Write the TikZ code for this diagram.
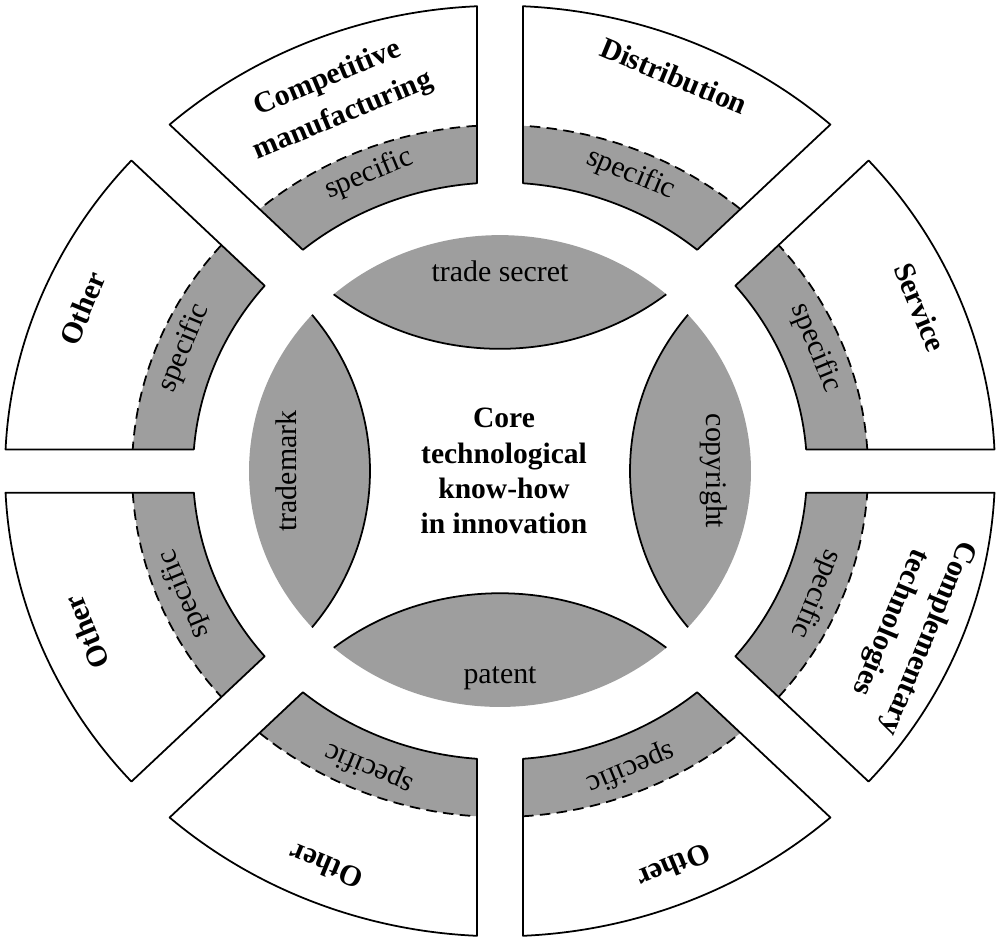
\documentclass[tikz,border=0pt]{standalone}
\usepackage{fontspec}
\setmainfont{Liberation Serif}
\usepackage{xcolor}
\usepackage{tikz}
\definecolor{bandgray}{RGB}{158,158,158}
\tikzset{
    every node/.style={font=\fontsize{8.5}{9.5}\selectfont},
    seg/.style={draw=black, line width=0.5pt, line join=round},
    band/.style={fill=bandgray},
    splitline/.style={draw=black, line width=0.5pt, dash pattern=on 3pt off 1.8pt},
    lens/.style={fill=bandgray},
    lensedge/.style={draw=black, line width=0.5pt},
    outlabel/.style={font=\bfseries\fontsize{8.5}{11.5}\selectfont, align=center, inner sep=1pt},
    corelabel/.style={font=\bfseries\fontsize{8.4}{10}\selectfont, align=center}
}
\newcommand{\ringout}{4.95}
\newcommand{\ringmid}{3.68}
\newcommand{\ringin}{3.07}

\begin{document}
\begin{tikzpicture}[yscale=0.94]
        \useasboundingbox (-5.00,-5.011) rectangle (5.03,5.011);

        % outer ring, one piece per sector
        \foreach \a/\ga/\gb in {0/0.23/0.27, 45/0.27/0.23, 90/0.23/0.27, 135/0.27/0.23,
                                180/0.23/0.27, 225/0.27/0.23, 270/0.23/0.27, 315/0.27/0.23}{
            \pgfmathsetmacro{\oa}{\a+asin(\ga/\ringout)}
            \pgfmathsetmacro{\ob}{\a+45-asin(\gb/\ringout)}
            \pgfmathsetmacro{\ma}{\a+asin(\ga/\ringmid)}
            \pgfmathsetmacro{\mb}{\a+45-asin(\gb/\ringmid)}
            \pgfmathsetmacro{\ia}{\a+asin(\ga/\ringin)}
            \pgfmathsetmacro{\ib}{\a+45-asin(\gb/\ringin)}
            \fill[band] (\ma:\ringmid) arc[start angle=\ma, end angle=\mb, radius=\ringmid]
                -- (\ib:\ringin) arc[start angle=\ib, end angle=\ia, radius=\ringin] -- cycle;
            \draw[seg] (\oa:\ringout) arc[start angle=\oa, end angle=\ob, radius=\ringout]
                -- (\ib:\ringin) arc[start angle=\ib, end angle=\ia, radius=\ringin] -- cycle;
            \draw[splitline] (\ma:\ringmid) arc[start angle=\ma, end angle=\mb, radius=\ringmid];
        }

        % inner lenses
        \foreach \r in {90,0,270,180}{
            \begin{scope}[rotate=\r-90]
                \fill[lens] (48.5:2.51) arc[start angle=48.5, end angle=131.5, radius=2.51]
                    arc[start angle=231.55, end angle=308.45, radius=2.674] -- cycle;
                \draw[lensedge] (131.5:2.51) arc[start angle=231.55, end angle=308.45, radius=2.674];
            \end{scope}
        }

        \node (secret) at (90:2.12) {trade secret};
        \node[rotate=-90] (copy) at (0:2.14) {copyright};
        \node (patent) at (270:2.2) {patent};
        \node[rotate=90] (trademark) at (180:2.14) {trademark};
        \node[corelabel] (core) at (0.04,0) {Core\\technological\\know-how\\in innovation};

        % labels of the outer ring
        \foreach \t [count=\i] in {22.5,67.5,...,337.5}
            \node[rotate=\t-90] (spec\i) at (\t:3.42) {specific};

        \node[outlabel, rotate=22.5] (compman) at (112.5:4.3) {Competitive\\manufacturing};
        \node[outlabel, rotate=-22.5] (distrib) at (67.5:4.55) {Distribution};
        \node[outlabel, rotate=-67.5] (service) at (22.5:4.55) {Service};
        \node[outlabel, rotate=-112.5] (complem) at (-22.5:4.42) {Complementary\\technologies};
        \node[outlabel, rotate=-157.5] (otherse) at (-67.5:4.55) {Other};
        \node[outlabel, rotate=157.5] (othersw) at (-112.5:4.55) {Other};
        \node[outlabel, rotate=112.5] (otherws) at (-157.5:4.48) {Other};
        \node[outlabel, rotate=67.5] (otherwn) at (157.5:4.52) {Other};
\end{tikzpicture}
\end{document}
